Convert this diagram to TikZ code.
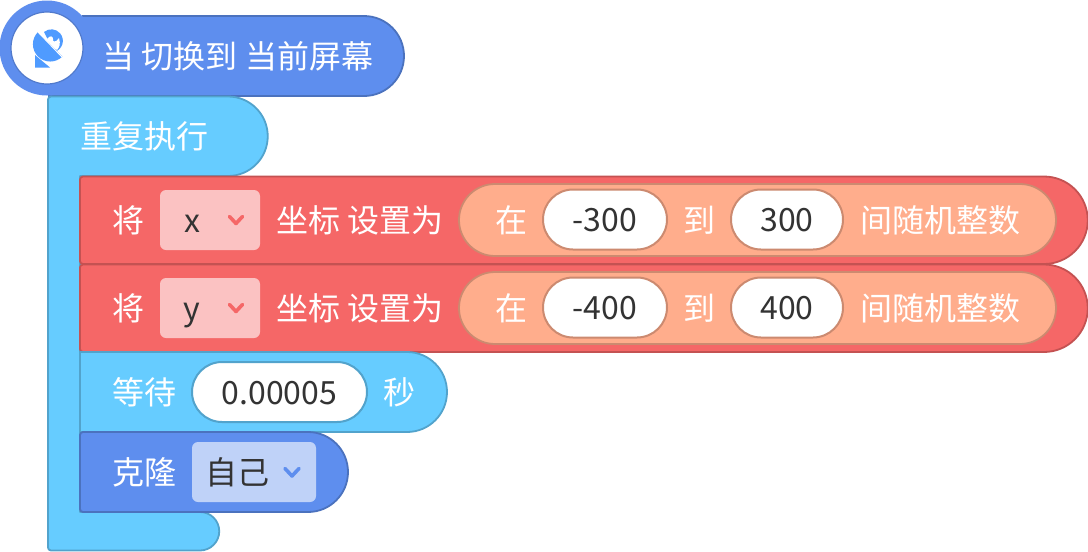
\documentclass[tikz,border=0pt]{standalone}
\usepackage{fontspec}
\setmainfont{Noto Sans CJK SC}
\definecolor{hatblue}{HTML}{5E8EEE}
\definecolor{hatline}{HTML}{4B72BE}
\definecolor{ctrl}{HTML}{66CCFF}
\definecolor{ctrlline}{HTML}{52A3CC}
\definecolor{redb}{HTML}{F56767}
\definecolor{redline}{HTML}{C45252}
\definecolor{orangeb}{HTML}{FFAD8C}
\definecolor{orangeline}{HTML}{CC8A70}
\definecolor{ddred}{HTML}{FBC2C2}
\definecolor{ddblue}{HTML}{BFD2F8}
\definecolor{ink}{HTML}{333333}
\definecolor{iconblue}{HTML}{4F9BFF}
\tikzset{
  lbl/.style={inner sep=0pt,text=white,font=\fontsize{32}{32}\selectfont,text height=24pt,text depth=4pt,anchor=west},
  val/.style={inner sep=0pt,text=ink,font=\fontsize{32}{32}\selectfont,text height=24pt,text depth=4pt},
  pill/.style={draw=#1,line width=2pt,fill=white,rounded corners=30pt,minimum height=60pt,inner sep=0pt,text=ink,font=\fontsize{32}{32}\selectfont,anchor=center},
  dropbox/.style={fill=#1,rounded corners=6pt,minimum height=60pt,inner sep=0pt,anchor=center},
  chev/.style={draw=#1,line width=3.6pt,line cap=round,line join=round},
  edge/.style={line width=1.8pt}
}
\newcommand{\redrow}[5]{% y offset, dropdown letter, lo, hi, name
  \begin{scope}[yshift=-#1pt]
  \draw[edge,fill=redb,draw=redline] (83,176.5) -- (1044,176.5) arc[start angle=-90,end angle=90,radius=43.75] -- (83,264) arc[start angle=90,end angle=180,radius=3] -- (80,179.5) arc[start angle=180,end angle=270,radius=3] -- cycle;
  \node[lbl] (jiang#5) at (112,222) {将};
  \node[dropbox=ddred,minimum width=100pt] (dd#5) at (210,220) {};
  \node[val] (var#5) at (192,222) {#2};
  \draw[chev=redb] (229.5,216.5) -- (236,223.5) -- (242.5,216.5);
  \node[lbl] (set#5) at (276.5,222) {坐标 设置为};
  \draw[edge,fill=orangeb,draw=orangeline] (495,184) -- (1020,184) arc[start angle=-90,end angle=90,radius=36] -- (495,256) arc[start angle=90,end angle=270,radius=36] -- cycle;
  \node[lbl] (in#5) at (495,222) {在};
  \node[pill=orangeline,minimum width=124pt,text height=24pt,text depth=0pt] (lo#5) at (605,219.5) {#3};
  \node[lbl] (to#5) at (683,222) {到};
  \node[pill=orangeline,minimum width=112pt,text height=24pt,text depth=0pt] (hi#5) at (787,219.5) {#4};
  \node[lbl] (rnd#5) at (860,222) {间随机整数};
  \end{scope}
}
\begin{document}
\begin{tikzpicture}[x=1pt,y=-1pt,line join=round]
\useasboundingbox[fill=white] (0,0) rectangle (1088,552);
% hat
\draw[edge,fill=hatblue,draw=hatline] (82,16) -- (364,16) arc[start angle=-90,end angle=90,radius=40] -- (48,96);
\fill[hatblue] (47,48) circle[radius=47.5];
\draw[line width=1.2pt,draw=hatline!70!hatblue,fill=white] (47,48) circle[radius=36];
% dish icon
\fill[iconblue] (35,55) -- (35,67.5) -- (50,67.5) -- (41,60) -- cycle;
\fill[iconblue] (44,32) arc[start angle=-130,end angle=75,radius=11.5] -- cycle;
\fill[white] (47,39) .. controls (50,35) and (53,36) .. (53,39) .. controls (52,42) and (56,43) .. (59,38) .. controls (61,44) and (59,48) .. (57,50) .. controls (51,47) and (49,42) .. (47,39) -- cycle;
\fill[iconblue] (38,32) arc[start angle=225,end angle=45,radius=17.3] -- cycle;
\draw[white,line width=1pt] (38,32) -- (62,57);
\node[lbl] (hat) at (102.5,58) {当 切换到 当前屏幕};
% c block
\draw[edge,fill=ctrl,draw=ctrlline] (51,96.5) -- (228,96.5) arc[start angle=-90,end angle=90,radius=39.75] -- (80,176) -- (80,512) -- (200,512) arc[start angle=-90,end angle=90,radius=19.25] -- (51,550.5) arc[start angle=90,end angle=180,radius=3] -- (48,99.5) arc[start angle=180,end angle=270,radius=3] -- cycle;
\node[lbl] (loop) at (80,138) {重复执行};
% red rows
\redrow{0}{x}{-300}{300}{a}
\redrow{88}{y}{-400}{400}{b}
% wait
\draw[edge,fill=ctrl,draw=ctrlline] (80,352) -- (407,352) arc[start angle=-90,end angle=90,radius=40] -- (80,432) -- cycle;
\node[lbl] (wait) at (112,394) {等待};
\node[pill=ctrlline,minimum width=175pt,text height=24pt,text depth=0pt] (waitval) at (279.5,392) {0.00005};
\node[lbl] (sec) at (383,394) {秒};
% clone
\draw[edge,fill=hatblue,draw=hatline] (83,432) -- (308,432) arc[start angle=-90,end angle=90,radius=40] -- (83,512) arc[start angle=90,end angle=180,radius=3] -- (80,435) arc[start angle=180,end angle=270,radius=3] -- cycle;
\node[lbl] (clone) at (112,474) {克隆};
\node[dropbox=ddblue,minimum width=124pt] (ddself) at (254,472) {};
\node[val,anchor=west] (self) at (205,474) {自己};
\draw[chev=hatblue] (285,468.5) -- (292,476) -- (299,468.5);
\end{tikzpicture}
\end{document}
